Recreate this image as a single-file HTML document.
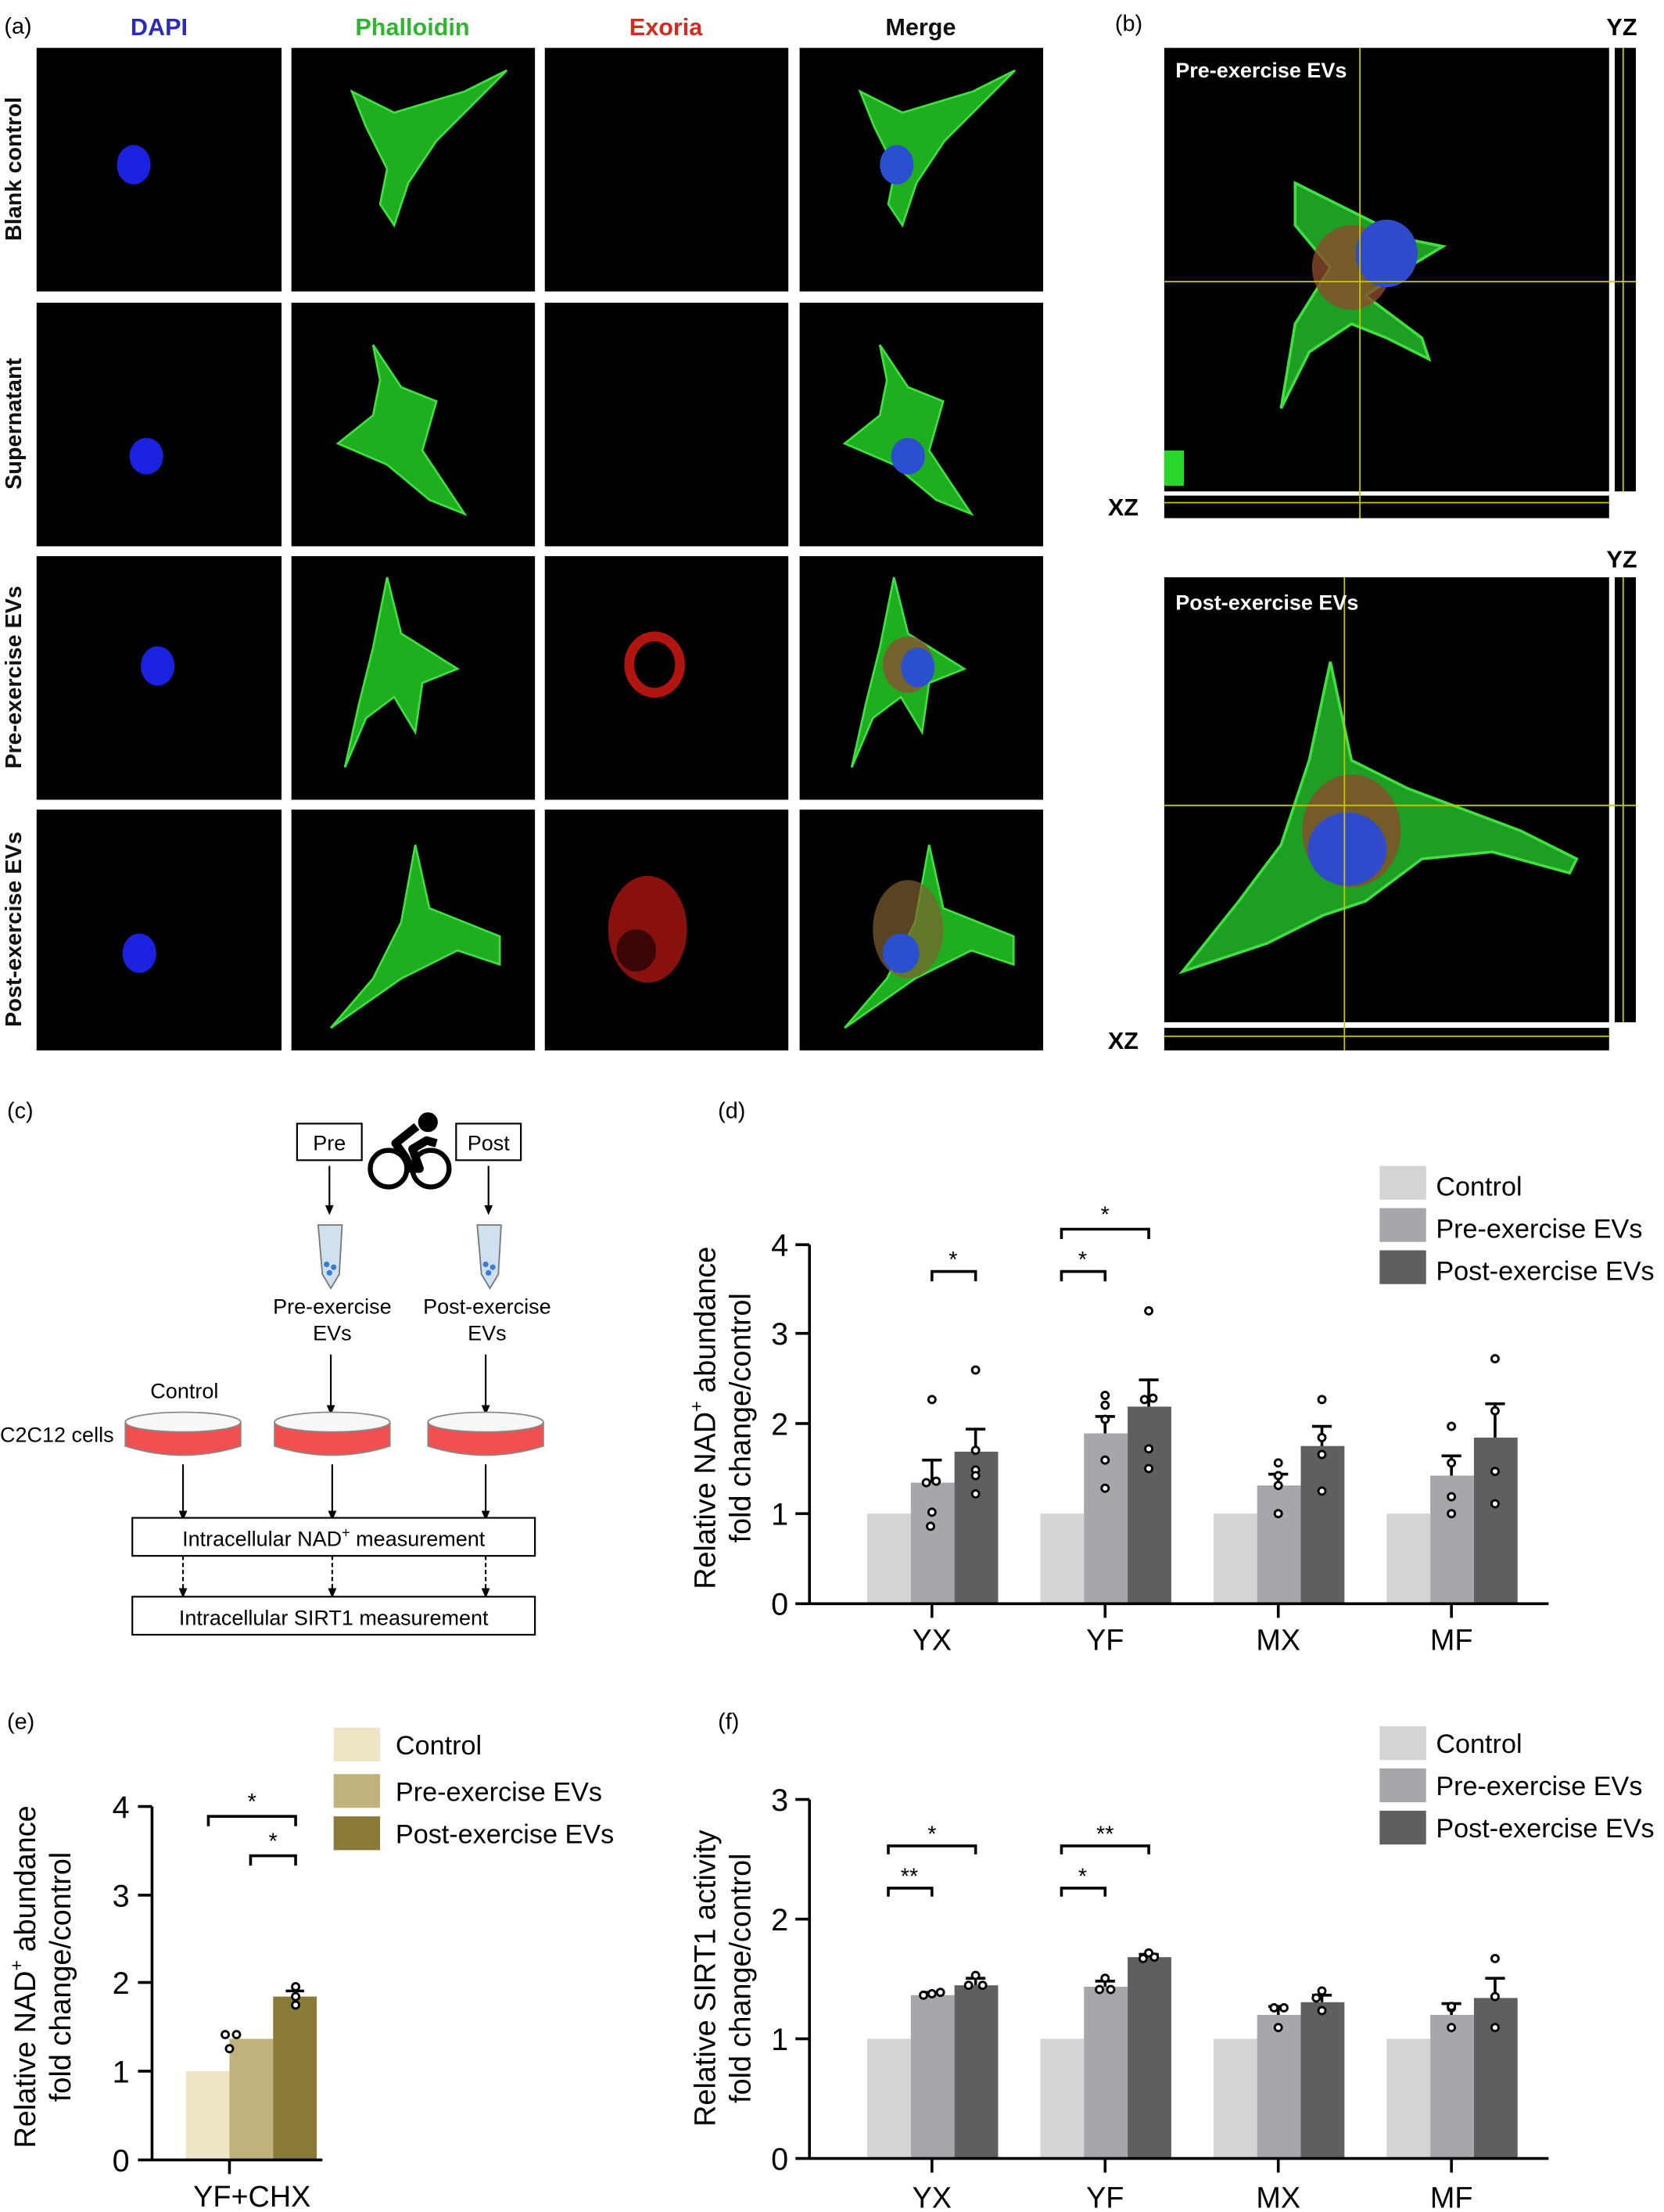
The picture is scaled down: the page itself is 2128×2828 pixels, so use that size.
<!DOCTYPE html>
<html><head><meta charset="utf-8"><style>
html,body{margin:0;padding:0;background:#fff;}
svg{display:block;}
text{font-family:"Liberation Sans",Arial,sans-serif;}
</style></head><body>
<svg width="2128" height="2828" viewBox="0 0 1182 1571" preserveAspectRatio="none" xmlns="http://www.w3.org/2000/svg">
<defs>
<g id="cell1"><path d="M-50,-45 L-20,-30 L30,-45 L60,-60 L40,-40 L10,-10 L-10,20 L-20,50 L-30,35 L-25,10 L-40,-20 Z" fill="#1fae1f" stroke="#3fe03f" stroke-width="1.5"/></g>
<g id="cell2"><path d="M-20,-65 L0,-35 L25,-25 L15,10 L45,55 L20,45 L-10,20 L-45,5 L-20,-15 L-15,-40 Z" fill="#1fae1f" stroke="#3fe03f" stroke-width="1.5"/></g>
<g id="cell3"><path d="M-5,-70 L5,-30 L45,-5 L20,5 L15,40 L0,15 L-20,30 L-35,65 L-25,20 L-15,-20 Z" fill="#1fae1f" stroke="#3fe03f" stroke-width="1.5"/></g>
<g id="cell4"><path d="M0,-65 L10,-20 L60,0 L60,20 L30,10 L-10,30 L-60,65 L-30,30 L-10,-10 Z" fill="#1fae1f" stroke="#3fe03f" stroke-width="1.5"/></g>
</defs>
<rect width="1182" height="1571" fill="#fff"/>
<!-- Panel a -->
<text x="3" y="24" font-size="16">(a)</text>
<text x="113" y="25" font-size="17" font-weight="bold" fill="#2b2bb8" text-anchor="middle">DAPI</text>
<text x="293" y="25" font-size="17" font-weight="bold" fill="#2fb52f" text-anchor="middle">Phalloidin</text>
<text x="473" y="25" font-size="17" font-weight="bold" fill="#d42a20" text-anchor="middle">Exoria</text>
<text x="654" y="25" font-size="17" font-weight="bold" fill="#111" text-anchor="middle">Merge</text>
<g fill="#000">
<rect x="26" y="34" width="174" height="173"/><rect x="207" y="34" width="173" height="173"/><rect x="387" y="34" width="173" height="173"/><rect x="568" y="34" width="173" height="173"/>
<rect x="26" y="215" width="174" height="173"/><rect x="207" y="215" width="173" height="173"/><rect x="387" y="215" width="173" height="173"/><rect x="568" y="215" width="173" height="173"/>
<rect x="26" y="395" width="174" height="173"/><rect x="207" y="395" width="173" height="173"/><rect x="387" y="395" width="173" height="173"/><rect x="568" y="395" width="173" height="173"/>
<rect x="26" y="575" width="174" height="171"/><rect x="207" y="575" width="173" height="171"/><rect x="387" y="575" width="173" height="171"/><rect x="568" y="575" width="173" height="171"/>
</g>
<g font-size="16" font-weight="bold" fill="#111" text-anchor="middle">
<text transform="translate(15,120) rotate(-90)">Blank control</text>
<text transform="translate(15,301) rotate(-90)">Supernatant</text>
<text transform="translate(15,481) rotate(-90)">Pre-exercise EVs</text>
<text transform="translate(15,660) rotate(-90)">Post-exercise EVs</text>
</g>
<!-- row1 -->
<ellipse cx="95" cy="117" rx="12" ry="14" fill="#1a22e0"/>
<use href="#cell1" x="300" y="110"/><use href="#cell1" x="661" y="110"/>
<ellipse cx="637" cy="117" rx="12" ry="14" fill="#2a50d0"/>
<!-- row2 -->
<ellipse cx="104" cy="324" rx="12" ry="13" fill="#1a22e0"/>
<use href="#cell2" x="285" y="310"/><use href="#cell2" x="645" y="310"/>
<ellipse cx="645" cy="324" rx="12" ry="13" fill="#2a50d0"/>
<!-- row3 -->
<ellipse cx="112" cy="473" rx="12" ry="14" fill="#1a22e0"/>
<use href="#cell3" x="280" y="480"/><use href="#cell3" x="640" y="480"/>
<ellipse cx="465" cy="472" rx="18" ry="20" fill="none" stroke="#b01510" stroke-width="7"/>
<ellipse cx="645" cy="472" rx="18" ry="20" fill="#8a5030" opacity="0.8"/>
<ellipse cx="652" cy="474" rx="12" ry="14" fill="#2a50d0"/>
<!-- row4 -->
<ellipse cx="99" cy="677" rx="12" ry="14" fill="#1a22e0"/>
<use href="#cell4" x="295" y="665"/><use href="#cell4" x="660" y="665"/>
<ellipse cx="460" cy="660" rx="28" ry="38" fill="#a01410" opacity="0.85"/>
<ellipse cx="452" cy="675" rx="14" ry="15" fill="#3a0505"/>
<ellipse cx="645" cy="660" rx="25" ry="35" fill="#806030" opacity="0.7"/>
<ellipse cx="640" cy="677" rx="13" ry="14" fill="#2a50d0"/>
<!-- Panel b -->
<text x="792" y="22" font-size="16">(b)</text>
<text x="1152" y="25" font-size="17" font-weight="bold" text-anchor="middle">YZ</text>
<rect x="827" y="34" width="316" height="315" fill="#000"/>
<rect x="1147" y="34" width="15" height="315" fill="#000"/>
<rect x="827" y="352" width="316" height="16" fill="#000"/>
<path d="M920,130 L960,150 L1000,170 L1025,175 L1000,190 L970,210 L1010,240 L1015,255 L985,240 L960,230 L930,250 L910,290 L920,230 L945,190 L920,160 Z" fill="#1e9e22" stroke="#3fe03f" stroke-width="2"/>
<ellipse cx="960" cy="190" rx="28" ry="30" fill="#8a4a2a" opacity="0.8"/>
<ellipse cx="985" cy="180" rx="22" ry="24" fill="#2f4bcc"/>
<line x1="827" y1="200" x2="1162" y2="200" stroke="#c8c800" stroke-width="1"/>
<line x1="966" y1="34" x2="966" y2="368" stroke="#c8c800" stroke-width="1"/>
<line x1="1153" y1="34" x2="1153" y2="349" stroke="#c8c800" stroke-width="1"/>
<line x1="827" y1="357" x2="1143" y2="357" stroke="#c8c800" stroke-width="1"/>
<rect x="827" y="320" width="14" height="25" fill="#2ad62a"/>
<text x="835" y="55" font-size="15" font-weight="bold" fill="#fff">Pre-exercise EVs</text>
<text x="787" y="366" font-size="17" font-weight="bold">XZ</text>
<text x="1152" y="403" font-size="17" font-weight="bold" text-anchor="middle">YZ</text>
<rect x="827" y="410" width="316" height="316" fill="#000"/>
<rect x="1147" y="410" width="15" height="316" fill="#000"/>
<rect x="827" y="730" width="316" height="16" fill="#000"/>
<path d="M945,470 L960,540 L1000,560 L1080,590 L1120,610 L1115,620 L1060,605 L1010,610 L970,640 L940,650 L900,670 L840,690 L880,640 L910,600 L930,540 Z" fill="#1e9e22" stroke="#3fe03f" stroke-width="2"/>
<ellipse cx="960" cy="590" rx="35" ry="40" fill="#8a4a2a" opacity="0.8"/>
<ellipse cx="957" cy="603" rx="28" ry="26" fill="#2f4bcc"/>
<line x1="827" y1="572" x2="1162" y2="572" stroke="#c8c800" stroke-width="1"/>
<line x1="955" y1="410" x2="955" y2="746" stroke="#c8c800" stroke-width="1"/>
<line x1="1153" y1="410" x2="1153" y2="726" stroke="#c8c800" stroke-width="1"/>
<line x1="827" y1="736" x2="1143" y2="736" stroke="#c8c800" stroke-width="1"/>
<text x="835" y="433" font-size="15" font-weight="bold" fill="#fff">Post-exercise EVs</text>
<text x="787" y="745" font-size="17" font-weight="bold">XZ</text>
<!-- Panel c -->
<text x="5" y="794" font-size="16">(c)</text>
<rect x="211" y="798" width="46" height="26" fill="#fff" stroke="#000" stroke-width="1.2"/>
<text x="234" y="817" font-size="15" text-anchor="middle">Pre</text>
<rect x="324" y="798" width="46" height="26" fill="#fff" stroke="#000" stroke-width="1.2"/>
<text x="347" y="817" font-size="15" text-anchor="middle">Post</text>
<g stroke="#000" fill="none" stroke-width="3.5"><circle cx="276" cy="830" r="13"/><circle cx="306" cy="830" r="13"/></g>
<path d="M296,800 L281,812 L288,822 L292,830 L298,830 L293,816 L303,810 L310,812" stroke="#000" stroke-width="6" fill="none" stroke-linejoin="round"/>
<circle cx="304" cy="797" r="7" fill="#000"/>
<g stroke="#000" stroke-width="1.2">
<line x1="234" y1="828" x2="234" y2="858"/><line x1="347" y1="828" x2="347" y2="858"/>
<line x1="235" y1="962" x2="235" y2="1000"/><line x1="345" y1="962" x2="345" y2="1000"/>
<line x1="130" y1="1040" x2="130" y2="1075"/><line x1="236" y1="1040" x2="236" y2="1075"/><line x1="345" y1="1040" x2="345" y2="1075"/>
<line x1="130" y1="1105" x2="130" y2="1130" stroke-dasharray="3,2"/><line x1="236" y1="1105" x2="236" y2="1130" stroke-dasharray="3,2"/><line x1="345" y1="1105" x2="345" y2="1130" stroke-dasharray="3,2"/>
</g>
<g fill="#000">
<path d="M231,856 L237,856 L234,863Z"/><path d="M344,856 L350,856 L347,863Z"/>
<path d="M232,998 L238,998 L235,1005Z"/><path d="M342,998 L348,998 L345,1005Z"/>
<path d="M127,1073 L133,1073 L130,1080Z"/><path d="M233,1073 L239,1073 L236,1080Z"/><path d="M342,1073 L348,1073 L345,1080Z"/>
<path d="M127,1128 L133,1128 L130,1135Z"/><path d="M233,1128 L239,1128 L236,1135Z"/><path d="M342,1128 L348,1128 L345,1135Z"/>
</g>
<g>
<path d="M226,870 L243,870 L241,905 L235,915 L229,905 Z" fill="#cfe0ee" stroke="#777"/>
<path d="M339,870 L356,870 L354,905 L348,915 L342,905 Z" fill="#cfe0ee" stroke="#777"/>
<circle cx="234" cy="904" r="2" fill="#3a7ccf"/><circle cx="237" cy="900" r="2" fill="#3a7ccf"/><circle cx="232" cy="898" r="2" fill="#3a7ccf"/>
<circle cx="347" cy="904" r="2" fill="#3a7ccf"/><circle cx="350" cy="900" r="2" fill="#3a7ccf"/><circle cx="345" cy="898" r="2" fill="#3a7ccf"/>
</g>
<g font-size="15" text-anchor="middle">
<text x="236" y="933">Pre-exercise</text><text x="236" y="952">EVs</text>
<text x="346" y="933">Post-exercise</text><text x="346" y="952">EVs</text>
<text x="131" y="993">Control</text>
</g>
<text x="0" y="1024" font-size="15">C2C12 cells</text>
<g stroke="#888" stroke-width="1">
<path d="M89,1010 L89,1027 Q130,1040 171,1027 L171,1010" fill="#f05050"/><ellipse cx="130" cy="1010" rx="41" ry="7" fill="#f8f8f8"/>
<path d="M195,1010 L195,1027 Q236,1040 277,1027 L277,1010" fill="#f05050"/><ellipse cx="236" cy="1010" rx="41" ry="7" fill="#f8f8f8"/>
<path d="M304,1010 L304,1027 Q345,1040 386,1027 L386,1010" fill="#f05050"/><ellipse cx="345" cy="1010" rx="41" ry="7" fill="#f8f8f8"/>
</g>
<rect x="94" y="1078" width="286" height="27" fill="#fff" stroke="#000" stroke-width="1.2"/>
<text x="237" y="1098" font-size="15" text-anchor="middle">Intracellular NAD<tspan font-size="10" dy="-6">+</tspan><tspan dy="6"> measurement</tspan></text>
<rect x="94" y="1134" width="286" height="27" fill="#fff" stroke="#000" stroke-width="1.2"/>
<text x="237" y="1154" font-size="15" text-anchor="middle">Intracellular SIRT1 measurement</text>
<!-- Panel d -->
<text x="510" y="794" font-size="16">(d)</text>
<g font-size="19">
<rect x="980" y="828" width="33" height="24" fill="#d4d4d4"/><text x="1020" y="849">Control</text>
<rect x="980" y="858" width="33" height="24" fill="#a6a6ab"/><text x="1020" y="879">Pre-exercise EVs</text>
<rect x="980" y="888" width="33" height="24" fill="#5f5f60"/><text x="1020" y="909">Post-exercise EVs</text>
</g>
<g fill="#d4d4d4"><rect x="616" y="1075" width="31" height="64"/><rect x="739" y="1075" width="31" height="64"/><rect x="862" y="1075" width="31" height="64"/><rect x="985" y="1075" width="31" height="64"/></g>
<g fill="#a6a6ab"><rect x="647" y="1053" width="31" height="86"/><rect x="770" y="1018" width="31" height="121"/><rect x="893" y="1055" width="31" height="84"/><rect x="1016" y="1048" width="31" height="91"/></g>
<g fill="#5f5f60"><rect x="678" y="1031" width="31" height="108"/><rect x="801" y="999" width="31" height="140"/><rect x="924" y="1027" width="31" height="112"/><rect x="1047" y="1021" width="31" height="118"/></g>
<g stroke="#000" stroke-width="2" fill="none">
<path d="M662,1053V1037M655,1037H669"/><path d="M693,1031V1015M686,1015H700"/>
<path d="M785,1018V1006M778,1006H792"/><path d="M816,999V980M809,980H823"/>
<path d="M908,1055V1047M901,1047H915"/><path d="M939,1027V1013M932,1013H946"/>
<path d="M1031,1048V1034M1024,1034H1038"/><path d="M1062,1021V997M1055,997H1069"/>
<path d="M575,884V1139M565,884H575M565,947H575M565,1011H575M565,1075H575M565,1139H1100"/>
<path d="M662,1139V1149M785,1139V1149M908,1139V1149M1031,1139V1149"/>
<path d="M662,910V903H693V910"/><path d="M754,910V903H785V910"/><path d="M754,880V873H816V880"/>
</g>
<g font-size="16" text-anchor="middle"><text x="677" y="900">*</text><text x="769" y="900">*</text><text x="785" y="868">*</text></g>
<g fill="#fff" stroke="#000" stroke-width="1.6">
<circle cx="662" cy="994" r="2.5"/><circle cx="658" cy="1053" r="2.5"/><circle cx="665" cy="1052" r="2.5"/><circle cx="662" cy="1074" r="2.5"/><circle cx="661" cy="1084" r="2.5"/>
<circle cx="693" cy="973" r="2.5"/><circle cx="693" cy="1030" r="2.5"/><circle cx="693" cy="1044" r="2.5"/><circle cx="693" cy="1048" r="2.5"/><circle cx="693" cy="1061" r="2.5"/>
<circle cx="785" cy="991" r="2.5"/><circle cx="785" cy="998" r="2.5"/><circle cx="785" cy="1008" r="2.5"/><circle cx="785" cy="1037" r="2.5"/><circle cx="785" cy="1057" r="2.5"/>
<circle cx="816" cy="931" r="2.5"/><circle cx="813" cy="994" r="2.5"/><circle cx="819" cy="993" r="2.5"/><circle cx="816" cy="1029" r="2.5"/><circle cx="816" cy="1043" r="2.5"/>
<circle cx="908" cy="1039" r="2.5"/><circle cx="908" cy="1048" r="2.5"/><circle cx="908" cy="1055" r="2.5"/><circle cx="908" cy="1075" r="2.5"/>
<circle cx="939" cy="994" r="2.5"/><circle cx="939" cy="1021" r="2.5"/><circle cx="939" cy="1033" r="2.5"/><circle cx="939" cy="1059" r="2.5"/>
<circle cx="1031" cy="1013" r="2.5"/><circle cx="1031" cy="1039" r="2.5"/><circle cx="1031" cy="1063" r="2.5"/><circle cx="1031" cy="1075" r="2.5"/>
<circle cx="1062" cy="965" r="2.5"/><circle cx="1062" cy="1002" r="2.5"/><circle cx="1062" cy="1045" r="2.5"/><circle cx="1062" cy="1068" r="2.5"/>
</g>
<g font-size="22" text-anchor="end"><text x="560" y="892">4</text><text x="560" y="955">3</text><text x="560" y="1019">2</text><text x="560" y="1083">1</text><text x="560" y="1147">0</text></g>
<g font-size="21" text-anchor="middle"><text x="662" y="1172">YX</text><text x="785" y="1172">YF</text><text x="908" y="1172">MX</text><text x="1031" y="1172">MF</text></g>
<g font-size="21" text-anchor="middle">
<text transform="translate(508,1007) rotate(-90)">Relative NAD<tspan font-size="13" dy="-9">+</tspan><tspan dy="9"> abundance</tspan></text>
<text transform="translate(533,1007) rotate(-90)">fold change/control</text>
</g>
<!-- Panel e -->
<text x="5" y="1228" font-size="16">(e)</text>
<g font-size="19">
<rect x="237" y="1227" width="33" height="24" fill="#ece5c6"/><text x="281" y="1246">Control</text>
<rect x="237" y="1260" width="33" height="24" fill="#c0b27a"/><text x="281" y="1279">Pre-exercise EVs</text>
<rect x="237" y="1290" width="33" height="24" fill="#8a7a3a"/><text x="281" y="1309">Post-exercise EVs</text>
</g>
<rect x="132" y="1471" width="31" height="63" fill="#ece5c6"/>
<rect x="163" y="1448" width="31" height="86" fill="#c0b27a"/>
<rect x="194" y="1418" width="31" height="116" fill="#8a7a3a"/>
<g stroke="#000" stroke-width="2" fill="none">
<path d="M108,1283V1534M98,1283H108M98,1346H108M98,1408H108M98,1471H108M98,1534H152M108,1534H229"/>
<path d="M163,1534V1544"/><path d="M203,1414H216"/>
<path d="M148,1297V1290H210V1297"/><path d="M178,1325V1318H210V1325"/>
</g>
<g font-size="16" text-anchor="middle"><text x="179" y="1285">*</text><text x="194" y="1313">*</text></g>
<g fill="#fff" stroke="#000" stroke-width="1.6">
<circle cx="160" cy="1445" r="2.5"/><circle cx="168" cy="1445" r="2.5"/><circle cx="163" cy="1455" r="2.5"/>
<circle cx="210" cy="1411" r="2.5"/><circle cx="210" cy="1418" r="2.5"/><circle cx="210" cy="1424" r="2.5"/>
</g>
<g font-size="22" text-anchor="end"><text x="92" y="1291">4</text><text x="92" y="1354">3</text><text x="92" y="1416">2</text><text x="92" y="1479">1</text><text x="92" y="1542">0</text></g>
<text x="179" y="1567" font-size="21" text-anchor="middle">YF+CHX</text>
<g font-size="21" text-anchor="middle">
<text transform="translate(25,1404) rotate(-90)">Relative NAD<tspan font-size="13" dy="-9">+</tspan><tspan dy="9"> abundance</tspan></text>
<text transform="translate(50,1404) rotate(-90)">fold change/control</text>
</g>
<!-- Panel f -->
<text x="510" y="1228" font-size="16">(f)</text>
<g font-size="19">
<rect x="980" y="1226" width="33" height="24" fill="#d4d4d4"/><text x="1020" y="1245">Control</text>
<rect x="980" y="1256" width="33" height="24" fill="#a6a6ab"/><text x="1020" y="1275">Pre-exercise EVs</text>
<rect x="980" y="1286" width="33" height="24" fill="#5f5f60"/><text x="1020" y="1305">Post-exercise EVs</text>
</g>
<g fill="#d4d4d4"><rect x="616" y="1448" width="31" height="85"/><rect x="739" y="1448" width="31" height="85"/><rect x="862" y="1448" width="31" height="85"/><rect x="985" y="1448" width="31" height="85"/></g>
<g fill="#a6a6ab"><rect x="647" y="1417" width="31" height="116"/><rect x="770" y="1411" width="31" height="122"/><rect x="893" y="1431" width="31" height="102"/><rect x="1016" y="1431" width="31" height="102"/></g>
<g fill="#5f5f60"><rect x="678" y="1410" width="31" height="123"/><rect x="801" y="1390" width="31" height="143"/><rect x="924" y="1422" width="31" height="111"/><rect x="1047" y="1419" width="31" height="114"/></g>
<g stroke="#000" stroke-width="2" fill="none">
<path d="M662,1417V1415M655,1415H669"/><path d="M693,1410V1405M686,1405H700"/>
<path d="M785,1411V1407M778,1407H792"/><path d="M816,1390V1388M809,1388H823"/>
<path d="M908,1431V1425M901,1425H915"/><path d="M939,1422V1417M932,1417H946"/>
<path d="M1031,1431V1423M1024,1423H1038"/><path d="M1062,1419V1405M1055,1405H1069"/>
<path d="M575,1278V1533M565,1278H575M565,1363H575M565,1448H575M565,1533H1100"/>
<path d="M662,1533V1543M785,1533V1543M908,1533V1543M1031,1533V1543"/>
<path d="M631,1317V1311H693V1317"/><path d="M631,1347V1341H662V1347"/>
<path d="M754,1317V1311H816V1317"/><path d="M754,1347V1341H785V1347"/>
</g>
<g font-size="16" text-anchor="middle"><text x="662" y="1308">*</text><text x="646" y="1338">**</text><text x="785" y="1308">**</text><text x="769" y="1338">*</text></g>
<g fill="#fff" stroke="#000" stroke-width="1.6">
<circle cx="656" cy="1417" r="2.5"/><circle cx="662" cy="1416" r="2.5"/><circle cx="668" cy="1415" r="2.5"/>
<circle cx="693" cy="1403" r="2.5"/><circle cx="688" cy="1410" r="2.5"/><circle cx="698" cy="1410" r="2.5"/>
<circle cx="785" cy="1405" r="2.5"/><circle cx="781" cy="1413" r="2.5"/><circle cx="789" cy="1413" r="2.5"/>
<circle cx="816" cy="1387" r="2.5"/><circle cx="812" cy="1391" r="2.5"/><circle cx="820" cy="1390" r="2.5"/>
<circle cx="908" cy="1440" r="2.5"/><circle cx="905" cy="1426" r="2.5"/><circle cx="912" cy="1426" r="2.5"/>
<circle cx="939" cy="1414" r="2.5"/><circle cx="939" cy="1428" r="2.5"/><circle cx="935" cy="1419" r="2.5"/>
<circle cx="1031" cy="1440" r="2.5"/><circle cx="1031" cy="1426" r="2.5"/><circle cx="1031" cy="1425" r="2.5"/>
<circle cx="1062" cy="1391" r="2.5"/><circle cx="1062" cy="1418" r="2.5"/><circle cx="1062" cy="1440" r="2.5"/>
</g>
<g font-size="22" text-anchor="end"><text x="560" y="1286">3</text><text x="560" y="1371">2</text><text x="560" y="1456">1</text><text x="560" y="1541">0</text></g>
<g font-size="21" text-anchor="middle"><text x="662" y="1568">YX</text><text x="785" y="1568">YF</text><text x="908" y="1568">MX</text><text x="1031" y="1568">MF</text></g>
<g font-size="21" text-anchor="middle">
<text transform="translate(508,1405) rotate(-90)">Relative SIRT1 activity</text>
<text transform="translate(533,1405) rotate(-90)">fold change/control</text>
</g>
</svg>
</body></html>
